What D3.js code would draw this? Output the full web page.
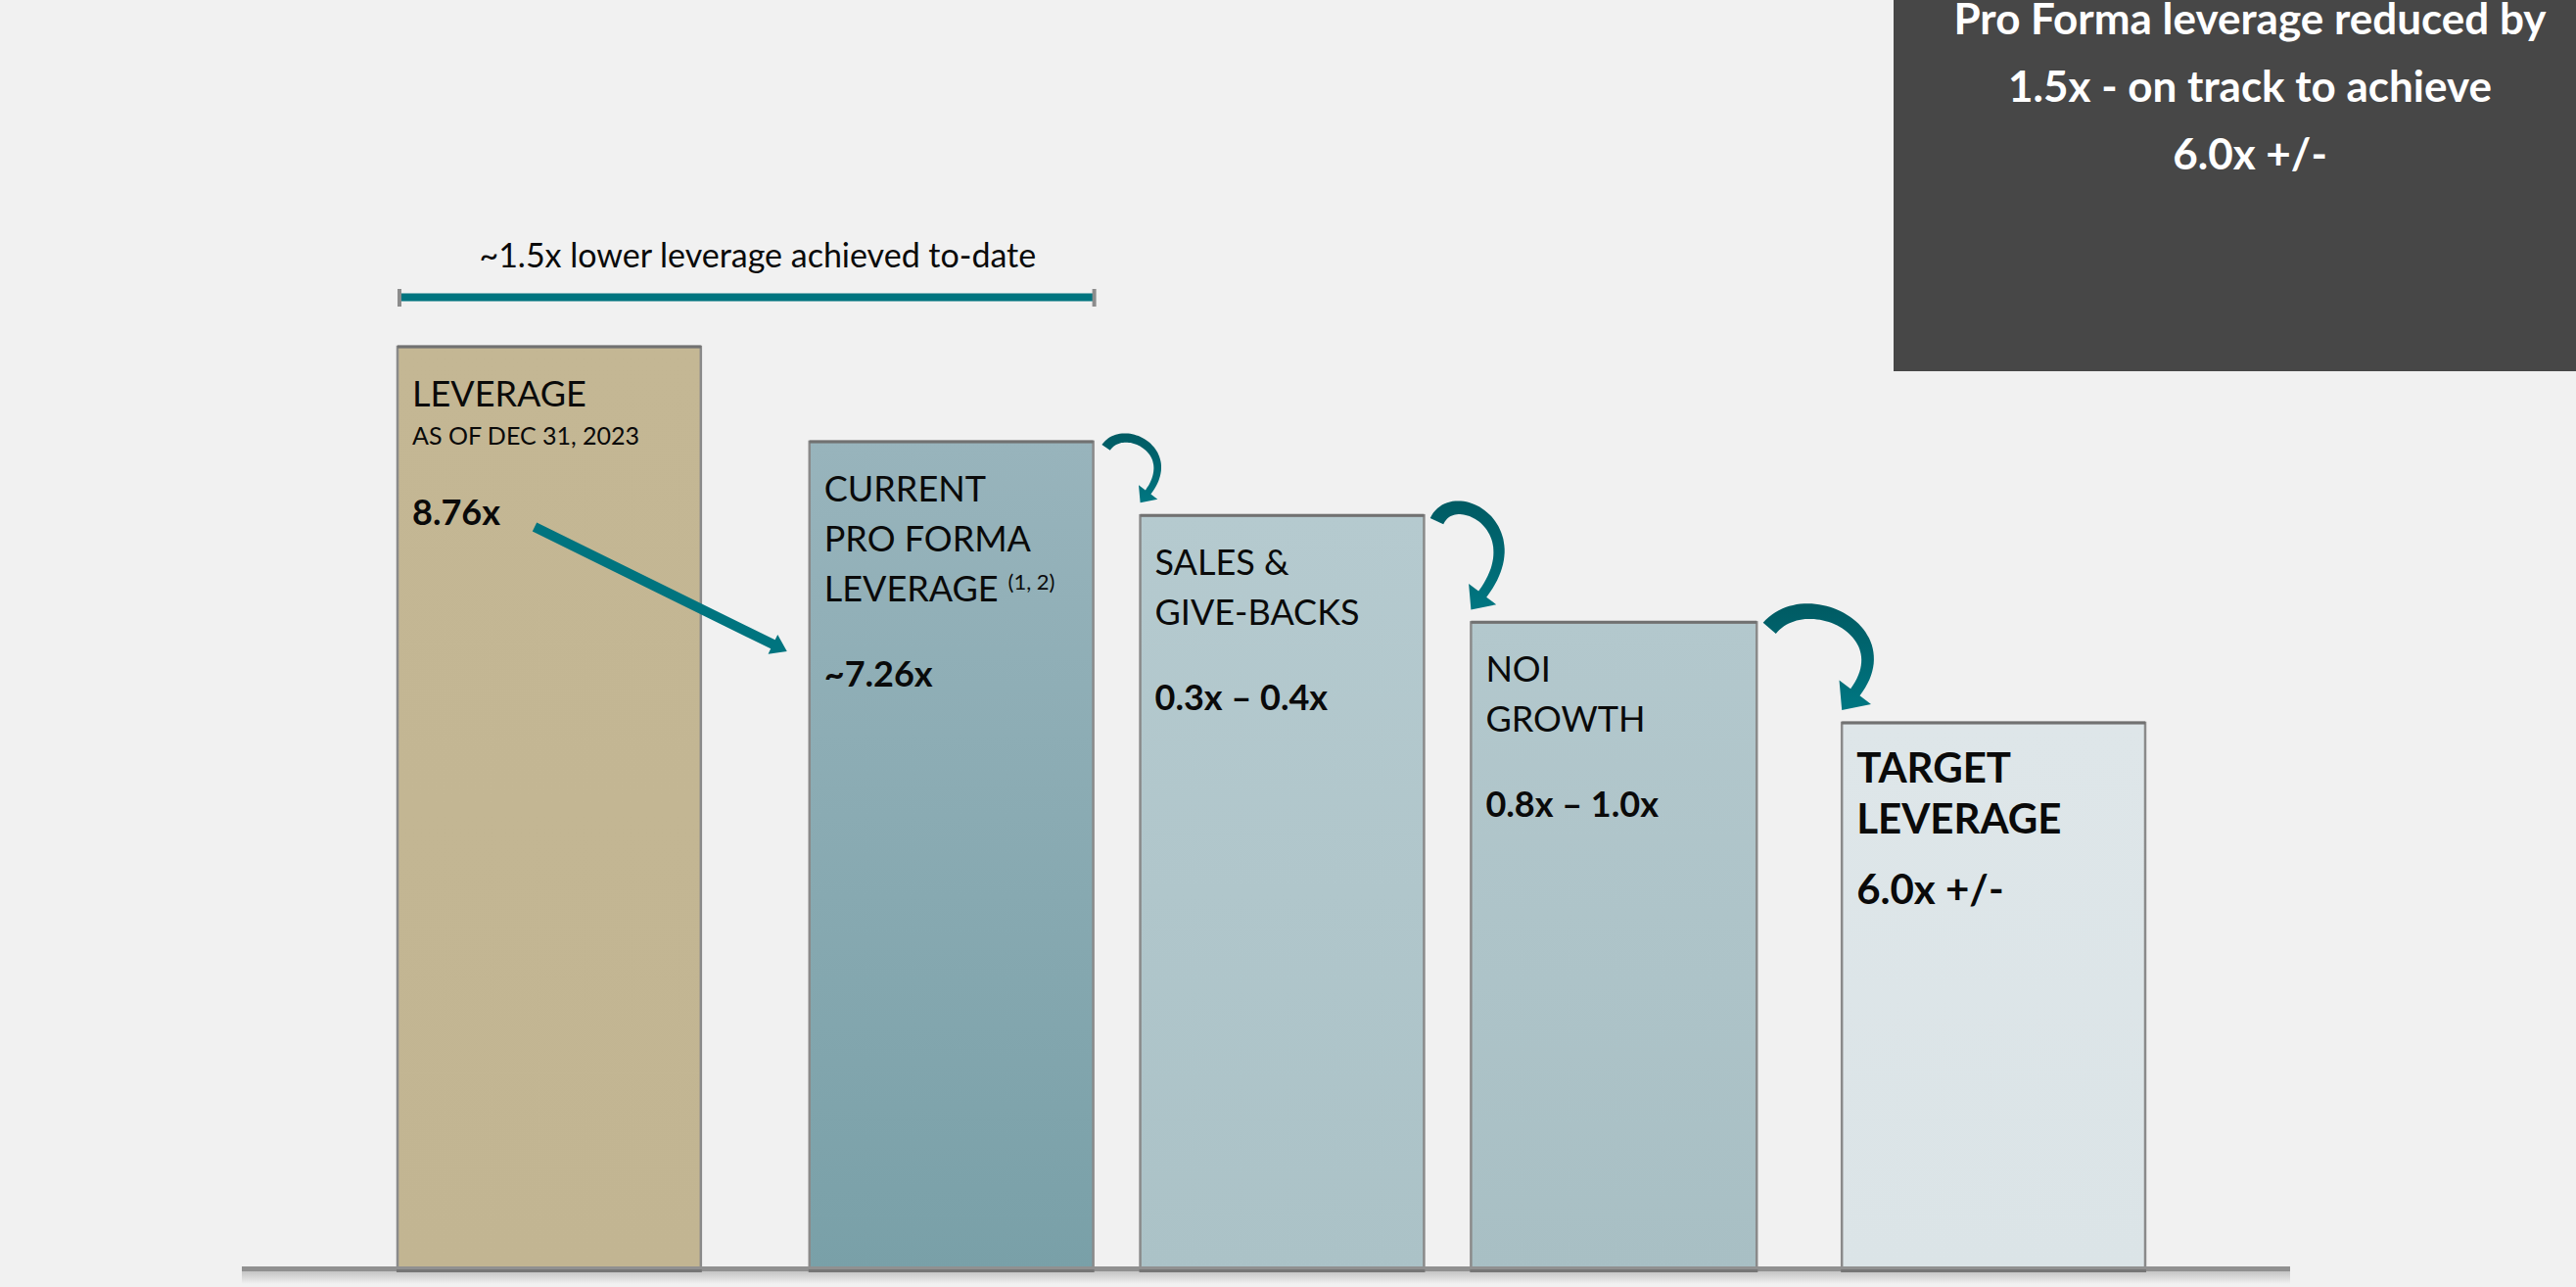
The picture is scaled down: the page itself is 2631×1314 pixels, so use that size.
<!DOCTYPE html>
<html>
<head>
<meta charset="utf-8">
<script src="https://cdn.jsdelivr.net/npm/d3@7"></script>
<style>
  html, body { margin: 0; padding: 0; background: #f1f1f1; }
  svg { display: block; }
  text { font-family: Lato, "Open Sans", sans-serif; fill: #0a0a0a; }
</style>
</head>
<body>
<svg id="chart" width="2631" height="1314"></svg>
<script>
// ---- data ----
const categories = ["Leverage Dec 2023", "Current pro forma", "Sales & give-backs", "NOI growth", "Target"];
const labelLines = [
  ["LEVERAGE"],
  ["CURRENT", "PRO FORMA", "LEVERAGE"],
  ["SALES &", "GIVE-BACKS"],
  ["NOI", "GROWTH"],
  ["TARGET", "LEVERAGE"]
];
const subLabels = ["AS OF DEC 31, 2023", "", "", "", ""];
const footnotes = ["", "(1, 2)", "", "", ""];
const valueLabels = ["8.76x", "~7.26x", "0.3x \u2013 0.4x", "0.8x \u2013 1.0x", "6.0x +/-"];
// step heights of the staircase, as % of the starting bar (schematic)
const stepLevel = [100, 89.7, 81.7, 70.1, 59.2];
const bracketLabel = "~1.5x lower leverage achieved to-date";
const calloutLines = ["Pro Forma leverage reduced by", "1.5x - on track to achieve", "6.0x +/-"];

// ---- layout ----
const W = 2631, H = 1314;
const baseY = 1295;
const slotWidth = [31, 29, 29, 29.2, 31];   // relative bar widths
const slotGap = [11.1, 4.8, 4.8, 8.7];       // relative gaps after each bar
const starts = [];
let acc = 0;
slotWidth.forEach((w, i) => { starts.push(acc); acc += w + (i < slotGap.length ? slotGap[i] : 0); });
const x = d3.scaleLinear().domain([0, acc]).range([406, 2191]);
const y = d3.scaleLinear().domain([0, 100]).range([baseY, 354]);

const fills = [
  ["#c4b794", "#c2b592"],
  ["#98b4bc", "#79a0a8"],
  ["#b5cacf", "#abc2c7"],
  ["#b3c8cd", "#a8bfc4"],
  ["#dee6e9", "#dbe4e7"]
];

const svg = d3.select("#chart");
const defs = svg.append("defs");
svg.append("rect").attr("width", W).attr("height", H).attr("fill", "#f1f1f1");

fills.forEach((f, i) => {
  const g = defs.append("linearGradient").attr("id", "barFill" + i)
    .attr("x1", 0).attr("y1", 0).attr("x2", 0).attr("y2", 1);
  g.append("stop").attr("offset", 0).attr("stop-color", f[0]);
  g.append("stop").attr("offset", 1).attr("stop-color", f[1]);
});
const sh = defs.append("linearGradient").attr("id", "baseShadow")
  .attr("x1", 0).attr("y1", 0).attr("x2", 0).attr("y2", 1);
sh.append("stop").attr("offset", 0).attr("stop-color", "#c4c4c4");
sh.append("stop").attr("offset", 1).attr("stop-color", "#f1f1f1");

const bars = categories.map((c, i) => ({
  i, c,
  x0: x(starts[i]),
  x1: x(starts[i] + slotWidth[i]),
  top: y(stepLevel[i])
}));

// ---- baseline with soft shadow ----
const lineX0 = x(0) - 159, lineX1 = x(acc) + 148;
svg.append("rect").attr("x", lineX0).attr("y", baseY + 3).attr("width", lineX1 - lineX0)
  .attr("height", 13).attr("fill", "url(#baseShadow)");

// ---- bars ----
svg.selectAll("rect.bar").data(bars).join("rect").attr("class", "bar")
  .attr("x", d => d.x0).attr("y", d => d.top)
  .attr("width", d => d.x1 - d.x0).attr("height", d => baseY + 2 - d.top)
  .attr("fill", d => "url(#barFill" + d.i + ")")
  .attr("stroke", "#8a8a8a").attr("stroke-width", 2.5);
svg.selectAll("line.bartop").data(bars).join("line").attr("class", "bartop")
  .attr("x1", d => d.x0).attr("x2", d => d.x1)
  .attr("y1", d => d.top).attr("y2", d => d.top)
  .attr("stroke", "#717171").attr("stroke-width", 3);

svg.append("rect").attr("x", lineX0).attr("y", baseY - 2).attr("width", lineX1 - lineX0)
  .attr("height", 5).attr("fill", "#909090");
svg.selectAll("rect.barfoot").data(bars).join("rect").attr("class", "barfoot")
  .attr("x", d => d.x0 - 1).attr("y", baseY + 1).attr("width", d => d.x1 - d.x0 + 2)
  .attr("height", 3).attr("fill", "#767676");

// ---- bar texts ----
const padX = 15, firstLine = 61, lineStep = 51;
bars.forEach(d => {
  const big = d.i === 4;
  const fs = big ? 42 : 36;
  const lines = labelLines[d.i];
  const g = svg.append("g");
  lines.forEach((t, k) => {
    const tx = g.append("text")
      .attr("x", d.x0 + padX)
      .attr("y", d.top + firstLine + k * (big ? 52 : lineStep))
      .attr("font-size", fs)
      .attr("font-weight", big ? 700 : 400)
      .text(t);
    if (footnotes[d.i] && k === lines.length - 1) {
      const w = tx.node().getComputedTextLength();
      g.append("text").attr("x", d.x0 + padX + w + 10)
        .attr("y", d.top + firstLine + k * lineStep - 12)
        .attr("font-size", 22).text(footnotes[d.i]);
    }
  });
  let lastY = d.top + firstLine + (lines.length - 1) * (big ? 52 : lineStep);
  if (subLabels[d.i]) {
    lastY += 39;
    g.append("text").attr("x", d.x0 + padX).attr("y", lastY)
      .attr("font-size", 25).text(subLabels[d.i]);
    lastY -= 5;
  }
  g.append("text").attr("class", "val" + d.i)
    .attr("x", d.x0 + padX)
    .attr("y", lastY + (big ? 72 : 87))
    .attr("font-size", fs).attr("font-weight", 700)
    .text(valueLabels[d.i]);
});

// ---- bracket over the achieved reduction ----
const bx0 = bars[0].x0 + 2, bx1 = bars[1].x1 + 1, by = 303.5;
svg.append("line").attr("x1", bx0).attr("x2", bx1).attr("y1", by).attr("y2", by)
  .attr("stroke", "#00747f").attr("stroke-width", 8);
[bx0, bx1].forEach(v => svg.append("rect").attr("x", v - 2).attr("y", by - 8.5)
  .attr("width", 4).attr("height", 18).attr("fill", "#8c8c8c"));
svg.append("text").attr("x", (bx0 + bx1) / 2 + 11).attr("y", 273)
  .attr("text-anchor", "middle").attr("font-size", 34).text(bracketLabel);

// ---- straight arrow from starting to current leverage ----
function straightArrow(p0, tip, width, headLen, headHalf) {
  const dx = tip[0] - p0[0], dy = tip[1] - p0[1], L = Math.hypot(dx, dy);
  const ux = dx / L, uy = dy / L, nx = -uy, ny = ux;
  const bxp = tip[0] - ux * headLen, byp = tip[1] - uy * headLen;
  const h = width / 2;
  const pts = [
    [p0[0] + nx * h, p0[1] + ny * h], [bxp + nx * h, byp + ny * h],
    [bxp + nx * headHalf, byp + ny * headHalf], tip,
    [bxp - nx * headHalf, byp - ny * headHalf], [bxp - nx * h, byp - ny * h],
    [p0[0] - nx * h, p0[1] - ny * h]
  ];
  svg.append("path").attr("d", "M" + pts.map(p => p.join(",")).join("L") + "Z")
    .attr("fill", "#00747f");
}
const v0 = svg.select("text.val0"), v1 = svg.select("text.val1");
straightArrow([bars[0].x0 + 140, +v0.attr("y") + 2], [bars[1].x0 - 23, +v1.attr("y") - 36], 10, 16, 11);

// ---- curved step arrows between the bars ----
function cubic(p, t) {
  const m = 1 - t;
  return [
    m*m*m*p[0][0] + 3*m*m*t*p[1][0] + 3*m*t*t*p[2][0] + t*t*t*p[3][0],
    m*m*m*p[0][1] + 3*m*m*t*p[1][1] + 3*m*t*t*p[2][1] + t*t*t*p[3][1]
  ];
}
function cubicD(p, t) {
  const m = 1 - t;
  return [
    3*m*m*(p[1][0]-p[0][0]) + 6*m*t*(p[2][0]-p[1][0]) + 3*t*t*(p[3][0]-p[2][0]),
    3*m*m*(p[1][1]-p[0][1]) + 6*m*t*(p[2][1]-p[1][1]) + 3*t*t*(p[3][1]-p[2][1])
  ];
}
function curvedArrow(src, tgt, k) {
  const tail = [src.x1 + 13, src.top + 6];
  const tip = [tgt.x0, tgt.top - 13];
  const size = Math.hypot(tip[0] - tail[0], tip[1] - tail[1]) * 0.14;
  const dir = [-0.6, 0.8];
  const headLen = size * 1.45, headHalf = size * 1.3;
  const E = [tip[0] - dir[0] * headLen, tip[1] - dir[1] * headLen];
  const w = tip[0] - tail[0], h = tip[1] - tail[1];
  const P = [tail, [tail[0] + w * 0.5, tail[1] - size * 2.8], [E[0] - dir[0] * h * 0.95, E[1] - dir[1] * h * 0.95], E];
  const left = [], right = [];
  const N = 48;
  for (let j = 0; j <= N; j++) {
    const t = j / N, pt = cubic(P, t), dv = cubicD(P, t);
    const L = Math.hypot(dv[0], dv[1]), nx = -dv[1] / L, ny = dv[0] / L;
    const hw = size * (1.1 - 0.35 * t) / 2;
    left.push([pt[0] + nx * hw, pt[1] + ny * hw]);
    right.push([pt[0] - nx * hw, pt[1] - ny * hw]);
  }
  const n = [-dir[1], dir[0]];
  const head = [[E[0] + n[0] * headHalf, E[1] + n[1] * headHalf], tip, [E[0] - n[0] * headHalf, E[1] - n[1] * headHalf]];
  const gid = "arrowFill" + k;
  const g = defs.append("linearGradient").attr("id", gid).attr("gradientUnits", "userSpaceOnUse")
    .attr("x1", 0).attr("y1", tail[1] - size * 2).attr("x2", 0).attr("y2", tip[1]);
  g.append("stop").attr("offset", 0).attr("stop-color", "#005961");
  g.append("stop").attr("offset", 0.45).attr("stop-color", "#00656f");
  g.append("stop").attr("offset", 1).attr("stop-color", "#007782");
  const pts = left.concat(head, right.reverse());
  svg.append("path").attr("d", "M" + pts.map(p => p[0].toFixed(1) + "," + p[1].toFixed(1)).join("L") + "Z")
    .attr("fill", "url(#" + gid + ")");
}
for (let k = 1; k < bars.length - 1; k++) curvedArrow(bars[k], bars[k + 1], k);

// ---- callout box ----
const boxX = 1934;
svg.append("rect").attr("x", boxX).attr("y", 0).attr("width", W - boxX).attr("height", 379)
  .attr("fill", "#474747");
calloutLines.forEach((t, k) => {
  svg.append("text").attr("x", 2298).attr("y", 35 + k * 69)
    .attr("text-anchor", "middle").attr("font-size", 44).attr("font-weight", 700)
    .style("fill", "#ffffff").text(t);
});
</script>
</body>
</html>
